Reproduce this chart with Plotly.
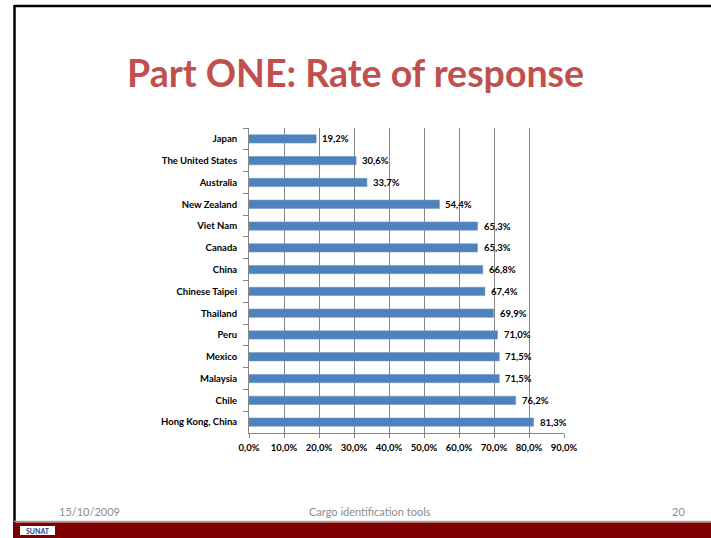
import plotly.graph_objects as go

countries = ["Japan", "The United States", "Australia", "New Zealand", "Viet Nam",
             "Canada", "China", "Chinese Taipei", "Thailand", "Peru", "Mexico",
             "Malaysia", "Chile", "Hong Kong, China"]
rates = [19.2, 30.6, 33.7, 54.4, 65.3, 65.3, 66.8, 67.4, 69.9, 71.0, 71.5, 71.5, 76.2, 81.3]
x_ticks = [0, 10, 20, 30, 40, 50, 60, 70, 80, 90]
x_tick_labels = [f"{t:.1f}".replace(".", ",") + "%" for t in x_ticks]
labels = [f"{v:.1f}".replace(".", ",") + "%" for v in rates]

title_text = "Part ONE: Rate of response"
footer_date = "15/10/2009"
footer_mid = "Cargo identification tools"
footer_page = "20"

W, H = 711, 538
L, R, T, B = 249, 564, 128, 433

def px(x):
    return (x - L) / (R - L)

def py(y):
    return (B - y) / (B - T)

fig = go.Figure(go.Bar(
    x=rates, y=countries, orientation="h",
    marker=dict(color="#4F81BD", line=dict(color="#6F97C8", width=0.6)),
    hoverinfo="skip",
))

fig.update_layout(
    width=W, height=H,
    margin=dict(l=L, r=W - R, t=T, b=H - B, pad=0),
    paper_bgcolor="white", plot_bgcolor="white",
    showlegend=False, bargap=0.62,
    font=dict(family="Lato", color="#000000"),
)
fig.update_xaxes(
    range=[0, 90], tickvals=x_ticks, ticktext=x_tick_labels,
    showgrid=True, gridcolor="#868686", gridwidth=1,
    showline=True, linecolor="#868686", linewidth=1,
    ticks="outside", ticklen=4, tickcolor="#868686",
    tickfont=dict(family="Lato", size=9.5, color="#000000", weight="bold"),
    ticklabelstandoff=2,
    zeroline=False, fixedrange=True,
)
fig.update_yaxes(
    autorange="reversed", categoryorder="array", categoryarray=countries,
    showline=True, linecolor="#868686", linewidth=1,
    ticks="outside", ticklen=5, tickcolor="#868686", tickson="boundaries",
    tickfont=dict(family="Lato", size=9.5, color="#000000", weight="bold"),
    ticklabelstandoff=9, fixedrange=True,
)

shapes = [
    dict(type="line", xref="paper", yref="paper", x0=px(14.5), x1=px(W + 5), y0=py(6), y1=py(6),
         line=dict(color="#000000", width=2.5)),
    dict(type="line", xref="paper", yref="paper", x0=px(14.5), x1=px(14.5), y0=py(5), y1=py(523),
         line=dict(color="#000000", width=2.5)),
    dict(type="line", xref="paper", yref="paper", x0=px(14), x1=px(W + 5), y0=py(521.5), y1=py(521.5),
         line=dict(color="#A0A0A0", width=1.5)),
    dict(type="rect", xref="paper", yref="paper", x0=px(13), x1=px(W + 5), y0=py(522.5), y1=py(H + 5),
         fillcolor="#7F0000", line=dict(width=0), layer="above"),
    dict(type="rect", xref="paper", yref="paper", x0=px(20), x1=px(55), y0=py(526), y1=py(535),
         fillcolor="#FFFFFF", line=dict(width=0), layer="above"),
]
fig.update_layout(shapes=shapes)

annotations = [
    dict(text=f"<b>{title_text}</b>", x=px(355.5), y=py(72), xref="paper", yref="paper",
         showarrow=False, xanchor="center", yanchor="middle",
         font=dict(family="Lato", size=37.5, color="#C0504D")),
    dict(text=footer_date, x=px(57), y=py(511), xref="paper", yref="paper",
         showarrow=False, xanchor="left", yanchor="middle",
         font=dict(family="Lato", size=11, color="#8C8C8C")),
    dict(text=footer_mid, x=px(370), y=py(511), xref="paper", yref="paper",
         showarrow=False, xanchor="center", yanchor="middle",
         font=dict(family="Lato", size=11, color="#8C8C8C")),
    dict(text=footer_page, x=px(687), y=py(511), xref="paper", yref="paper",
         showarrow=False, xanchor="right", yanchor="middle",
         font=dict(family="Lato", size=11, color="#8C8C8C")),
    dict(text="<b>SUNAT</b>", x=px(37.5), y=py(530.5), xref="paper", yref="paper",
         showarrow=False, xanchor="center", yanchor="middle",
         font=dict(family="Lato", size=7, color="#1F3F8F")),
]
for v, c, lab in zip(rates, countries, labels):
    annotations.append(dict(
        text=f"<b>{lab}</b>", x=v, y=c, xref="x", yref="y",
        showarrow=False, xanchor="left", yanchor="middle", xshift=4, yshift=0,
        font=dict(family="Lato", size=9.5, color="#000000"),
    ))
fig.update_layout(annotations=annotations)

fig.write_html("out.html")
